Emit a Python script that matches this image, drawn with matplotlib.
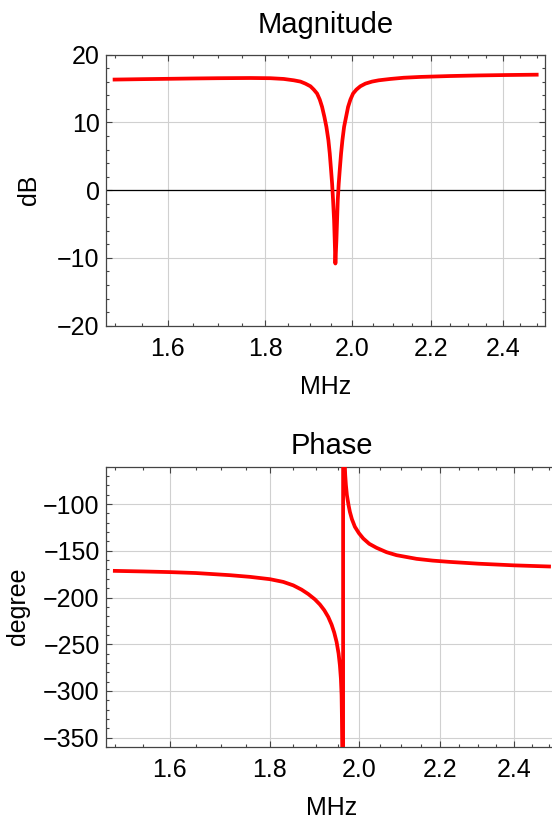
import matplotlib
matplotlib.use("Agg")
import matplotlib.pyplot as plt
from matplotlib.ticker import FixedLocator, FixedFormatter, NullFormatter

plt.rcParams['font.family'] = ['Liberation Sans', 'DejaVu Sans']

# ---------------- data ----------------
freq_mag = [1.50, 1.55, 1.60, 1.65, 1.70, 1.7682, 1.8115, 1.8409, 1.8633, 1.8784,
            1.8897, 1.9012, 1.9089, 1.9166, 1.9228, 1.9282, 1.9336, 1.9383,
            1.9430, 1.9462, 1.9493, 1.9517, 1.9540, 1.9564, 1.9579, 1.9595,
            1.9619, 1.9635, 1.9651, 1.9674, 1.9698, 1.9730, 1.9762, 1.9802,
            1.9850, 1.9898, 1.9954, 2.0018, 2.0099, 2.0196, 2.0319, 2.0483,
            2.0649, 2.0942, 2.1283, 2.1716, 2.25, 2.33, 2.41, 2.50]
mag_db = [16.33, 16.39, 16.44, 16.49, 16.53, 16.56, 16.53, 16.42, 16.22, 16.03,
          15.73, 15.34, 14.85, 14.26, 13.37, 12.29, 10.82, 9.34,
          7.37, 5.41, 2.95, 0.98, -1.48, -4.43, -7.37, -10.82,
          -7.37, -4.43, -1.48, 0.98, 2.95, 5.41, 7.37, 9.34,
          10.82, 12.29, 13.37, 14.26, 14.85, 15.34, 15.73, 16.03,
          16.22, 16.42, 16.60, 16.72, 16.85, 16.94, 17.00, 17.05]

freq_phase = [1.50, 1.55, 1.60, 1.65, 1.7176, 1.7585, 1.8003, 1.8287, 1.8504, 1.8686,
              1.8833, 1.8981, 1.9093, 1.9191, 1.9281, 1.9357, 1.9417, 1.9471,
              1.9517, 1.9547, 1.9570, 1.9586, 1.9593, 1.9601, 1.9621, 1.9621,
              1.9662, 1.9670, 1.9686, 1.9709, 1.9747, 1.9778, 1.9825, 1.9895,
              1.9989, 2.0091, 2.0233, 2.0408, 2.0650, 2.0894, 2.1391, 2.18,
              2.2246, 2.30, 2.40, 2.50]
phase_deg = [-171.5, -172.1, -172.8, -173.8, -176.1, -177.9, -180.4, -183.3, -187.0, -191.6,
             -196.3, -202.0, -207.5, -213.6, -220.8, -229.0, -237.5, -247.5,
             -260.0, -272.5, -286.8, -304.7, -326.1, -360.0, -360.0, -60.0,
             -60.0, -69.0, -79.7, -90.4, -101.1, -108.3, -116.1, -124.3,
             -131.1, -136.8, -142.5, -146.8, -151.5, -154.7, -158.6, -160.5,
             -161.9, -163.8, -165.6, -166.8]

x_ticks = [1.6, 1.8, 2.0, 2.2, 2.4]
x_tick_labels = ['1.6', '1.8', '2.0', '2.2', '2.4']
x_minor = [1.50, 1.55, 1.65, 1.70, 1.75, 1.85, 1.90, 1.95, 2.05, 2.10, 2.15,
           2.25, 2.30, 2.35, 2.45, 2.50]
mag_ticks = [-20, -10, 0, 10, 20]
mag_tick_labels = ['\u221220', '\u221210', '0', '10', '20']
phase_ticks = [-350, -300, -250, -200, -150, -100]
phase_tick_labels = ['\u2212350', '\u2212300', '\u2212250', '\u2212200', '\u2212150', '\u2212100']

titles = ['Magnitude', 'Phase']
x_label = 'MHz'
y_labels = ['dB', 'degree']

# ---------------- figure ----------------
W, H = 552, 821
fig = plt.figure(figsize=(W / 100, H / 100), dpi=100)

def fx(px):
    return px / W

def fy(py):
    return 1 - py / H

ax1 = fig.add_axes([fx(106), fy(325.7), fx(545.3) - fx(106), (325.7 - 54.7) / H])
ax2 = fig.add_axes([fx(106), fy(747), fx(557.9) - fx(106), (747 - 466.7) / H])

red = '#ff0000'
frame_col = '#444444'
grid_col = '#d0d0d0'
xlo, xhi = 1.4845, 2.5262
TICK_FS = 18

def style(ax, yticks, ylabels, yminor, ylim):
    ax.set_xscale('log')
    ax.set_xlim(xlo, xhi)
    ax.set_ylim(*ylim)
    ax.xaxis.set_major_locator(FixedLocator(x_ticks))
    ax.xaxis.set_major_formatter(FixedFormatter(x_tick_labels))
    ax.xaxis.set_minor_locator(FixedLocator(x_minor))
    ax.xaxis.set_minor_formatter(NullFormatter())
    ax.yaxis.set_major_locator(FixedLocator(yticks))
    ax.yaxis.set_major_formatter(FixedFormatter(ylabels))
    ax.yaxis.set_minor_locator(FixedLocator(yminor))
    ax.tick_params(which='both', direction='in', top=True, right=True,
                   color=frame_col, width=0.8)
    ax.tick_params(which='major', length=4.0, labelsize=TICK_FS)
    ax.tick_params(which='minor', length=2.2)
    ax.tick_params(axis='x', which='major', pad=8.0)
    ax.tick_params(axis='y', which='major', pad=4.5)
    ax.grid(True, which='major', color=grid_col, lw=0.8)
    ax.set_axisbelow(True)
    for s in ax.spines.values():
        s.set_color(frame_col)
        s.set_linewidth(0.9)

style(ax1, mag_ticks, mag_tick_labels,
      [v for v in range(-20, 21, 2) if v % 10 != 0], (-20, 20))
ax1.axhline(0, color='black', lw=0.9, zorder=1.5)
ax1.plot(freq_mag, mag_db, color=red, lw=2.7, solid_joinstyle='round', zorder=3)

style(ax2, phase_ticks, phase_tick_labels,
      [v for v in range(-360, -59, 10) if v % 50 != 0], (-360, -60))
ax2.plot(freq_phase, phase_deg, color=red, lw=2.7, solid_joinstyle='round', zorder=3)

# titles and axis labels
fig.text(fx((106 + 545.3) / 2), fy(33.3), titles[0], ha='center', va='baseline', fontsize=21)
fig.text(fx((106 + 557.9) / 2), fy(454.3), titles[1], ha='center', va='baseline', fontsize=21)
fig.text(fx((106 + 545.3) / 2), fy(394.5), x_label, ha='center', va='baseline', fontsize=18)
fig.text(fx((106 + 557.9) / 2), fy(815), x_label, ha='center', va='baseline', fontsize=18)
fig.text(fx(29), fy(190), y_labels[0], ha='center', va='center', rotation=90, fontsize=18)
fig.text(fx(18), fy(606), y_labels[1], ha='center', va='center', rotation=90, fontsize=18)

fig.savefig('out.png', dpi=100)
